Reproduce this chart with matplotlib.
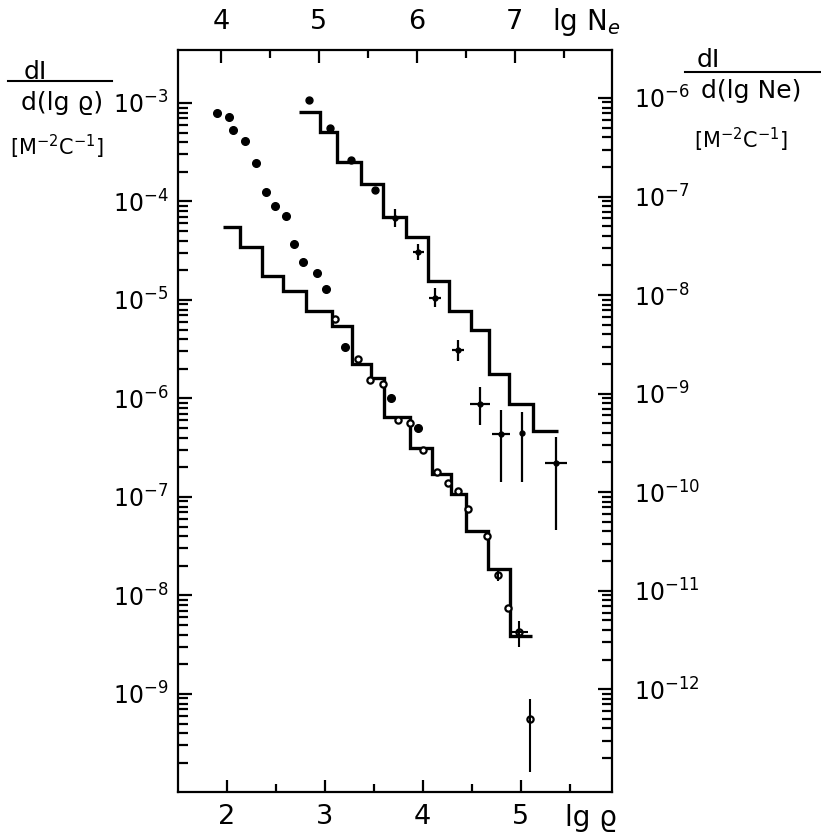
import matplotlib.pyplot as plt
import numpy as np
from matplotlib.lines import Line2D
from matplotlib.ticker import FixedLocator, NullFormatter

plt.rcParams['font.family'] = ['DejaVu Sans']
plt.rcParams['mathtext.fontset'] = 'dejavusans'

# lower histogram: dI/d(lg rho) against lg rho (bottom + left axes)
rho_edges = [1.965, 2.139, 2.357, 2.574, 2.809, 3.078, 3.276, 3.469, 3.605,
             3.871, 4.092, 4.286, 4.442, 4.663, 4.891, 5.112]
rho_hist = [5.55e-5, 3.45e-5, 1.75e-5, 1.22e-5, 7.78e-6, 5.45e-6, 2.22e-6, 1.63e-6,
            6.49e-7, 3.12e-7, 1.70e-7, 1.07e-7, 4.55e-8, 1.87e-8, 3.88e-9]

# points sitting on the lower histogram
rho_pts_x = [3.105, 3.337, 3.462, 3.592, 3.751, 3.870, 4.006, 4.143, 4.261,
             4.363, 4.465, 4.653, 4.771, 4.873, 4.983, 5.095]
rho_pts_y = [6.41e-6, 2.50e-6, 1.54e-6, 1.39e-6, 6.05e-7, 5.60e-7, 3.00e-7, 1.78e-7, 1.38e-7,
             1.16e-7, 7.50e-8, 4.02e-8, 1.61e-8, 7.41e-9, 4.30e-9, 5.53e-10]
# the ones with error bars
rho_err_x = [4.771, 4.983, 5.095]
rho_err_y = [1.61e-8, 4.30e-9, 5.53e-10]
rho_err_lo = [1.40e-8, 3.02e-9, 1.63e-10]
rho_err_hi = [1.85e-8, 5.55e-9, 8.89e-10]
rho_err_dx = [0.0, 0.09, 0.0]

# free dotted series, upper left
dots_x = [1.898, 2.020, 2.067, 2.187, 2.299, 2.398, 2.493, 2.605, 2.687,
          2.776, 2.918, 3.016, 3.207, 3.677, 3.957]
dots_y = [7.85e-4, 7.26e-4, 5.32e-4, 4.11e-4, 2.44e-4, 1.24e-4, 9.06e-5, 7.18e-5, 3.67e-5,
          2.42e-5, 1.87e-5, 1.30e-5, 3.30e-6, 1.00e-6, 5.02e-7]

# upper histogram: dI/d(lg Ne) against lg Ne (top + right axes)
ne_edges = [4.80, 5.01, 5.19, 5.43, 5.65, 5.89, 6.11, 6.33, 6.55, 6.74, 6.94, 7.19, 7.44]
ne_hist = [7.26e-7, 4.49e-7, 2.22e-7, 1.33e-7, 6.15e-8, 3.85e-8, 1.40e-8, 6.93e-9,
           4.42e-9, 1.58e-9, 7.82e-10, 4.19e-10]

ne_dot_x = [4.898, 5.112, 5.333, 5.577]
ne_dot_y = [9.55e-7, 4.99e-7, 2.35e-7, 1.16e-7]

ne_err_x = [5.780, 6.017, 6.187, 6.424, 6.645, 6.859, 7.075, 7.418]
ne_err_y = [6.01e-8, 2.75e-8, 9.44e-9, 2.80e-9, 7.91e-10, 3.88e-10, 3.94e-10, 1.98e-10]
ne_err_lo = [4.90e-8, 2.29e-8, 7.50e-9, 2.14e-9, 4.79e-10, 1.27e-10, 1.28e-10, 4.11e-11]
ne_err_hi = [7.40e-8, 3.31e-8, 1.19e-8, 3.50e-9, 1.17e-9, 6.81e-10, 6.53e-10, 3.64e-10]
ne_err_dx = [0.05, 0.06, 0.06, 0.06, 0.10, 0.09, 0.0, 0.11]

left_decades = [1e-3, 1e-4, 1e-5, 1e-6, 1e-7, 1e-8, 1e-9]
right_decades = [1e-6, 1e-7, 1e-8, 1e-9, 1e-10, 1e-11, 1e-12]

W, H = 821, 834
fig = plt.figure(figsize=(W / 100, H / 100), dpi=100)
rect = [178 / W, 1 - 792 / H, 434 / W, 742 / H]

ax = fig.add_axes(rect)
axn = fig.add_axes(rect, frameon=False)

lw = 2.4
black = 'black'

# lower histogram + points
ax.stairs(rho_hist, rho_edges, baseline=None, color=black, lw=lw)
ax.plot(dots_x, dots_y, 'o', color=black, ms=5.5)
ax.plot(rho_pts_x, rho_pts_y, 'o', mfc='white', mec=black, mew=1.6, ms=4.5)
y = np.array(rho_err_y)
ax.errorbar(rho_err_x, y, yerr=[y - np.array(rho_err_lo), np.array(rho_err_hi) - y],
            xerr=rho_err_dx, fmt='none', ecolor=black, elinewidth=1.5, capsize=0)

ax.set_xlim(1.503, 5.932)
ax.set_yscale('log')
ax.set_ylim(10 ** -9.995, 10 ** -2.462)

# upper histogram + points, on its own scales
axn.stairs(ne_hist, ne_edges, baseline=None, color=black, lw=lw)
axn.plot(ne_dot_x, ne_dot_y, 'o', color=black, ms=5)
y = np.array(ne_err_y)
axn.errorbar(ne_err_x, y, yerr=[y - np.array(ne_err_lo), np.array(ne_err_hi) - y],
             xerr=ne_err_dx, fmt='o', ms=3.5, color=black, elinewidth=1.6, capsize=0)

axn.set_xlim(1.503 + 2.06, 5.932 + 2.06)
axn.set_yscale('log')
axn.set_ylim(10 ** -13.043, 10 ** -5.513)

# ticks
for s in ax.spines.values():
    s.set_linewidth(1.6)

ax.set_xticks([2, 3, 4, 5])
ax.set_xticks([2.5, 3.5, 4.5, 5.5], minor=True)
ax.xaxis.set_minor_formatter(NullFormatter())
ax.yaxis.set_major_locator(FixedLocator(left_decades))
ax.yaxis.set_minor_locator(FixedLocator([k * 10.0 ** e for e in range(-10, -3) for k in range(2, 10)]))
ax.yaxis.set_minor_formatter(NullFormatter())
ax.tick_params(which='both', direction='in', width=1.6, top=False, right=False)
ax.tick_params(axis='x', which='major', length=9, labelsize=19.5, pad=9)
ax.tick_params(axis='x', which='minor', length=6)
ax.tick_params(axis='y', which='major', length=10, labelsize=17, pad=7)
ax.tick_params(axis='y', which='minor', length=7)

axn.xaxis.tick_top()
axn.yaxis.tick_right()
axn.set_xticks([4, 5, 6, 7])
axn.set_xticks([4.5, 5.5, 6.5, 7.5], minor=True)
axn.xaxis.set_minor_formatter(NullFormatter())
axn.yaxis.set_major_locator(FixedLocator(right_decades))
axn.yaxis.set_minor_locator(FixedLocator([k * 10.0 ** e for e in range(-13, -6) for k in range(2, 10)]))
axn.yaxis.set_minor_formatter(NullFormatter())
axn.tick_params(which='both', direction='in', width=1.6, bottom=False, left=False)
axn.tick_params(axis='x', which='major', length=9, labelsize=19.5, pad=11)
axn.tick_params(axis='x', which='minor', length=6)
axn.tick_params(axis='y', which='major', length=10, labelsize=17, pad=16)
axn.tick_params(axis='y', which='minor', length=7)


def fx(px):
    return px / W


def fy(py):
    return 1 - py / H


# axis names
fig.text(fx(591), fy(818), 'lg ϱ', fontsize=20, ha='center', va='center')
fig.text(fx(586), fy(22), 'lg N$_e$', fontsize=20, ha='center', va='center')

# left quantity
fig.text(fx(35), fy(72), 'dI', fontsize=18, ha='center', va='center')
fig.add_artist(Line2D([fx(8), fx(112)], [fy(81), fy(81)], color=black, lw=1.5))
fig.text(fx(62), fy(103), 'd(lg ϱ)', fontsize=18, ha='center', va='center')
fig.text(fx(57), fy(147), '[M$^{-2}$C$^{-1}$]', fontsize=15, ha='center', va='center')

# right quantity
fig.text(fx(708), fy(60), 'dI', fontsize=18, ha='center', va='center')
fig.add_artist(Line2D([fx(685), fx(820)], [fy(72), fy(72)], color=black, lw=1.5))
fig.text(fx(751), fy(91), 'd(lg Ne)', fontsize=18, ha='center', va='center')
fig.text(fx(741), fy(140), '[M$^{-2}$C$^{-1}$]', fontsize=15, ha='center', va='center')

fig.savefig('out.png', dpi=100)
